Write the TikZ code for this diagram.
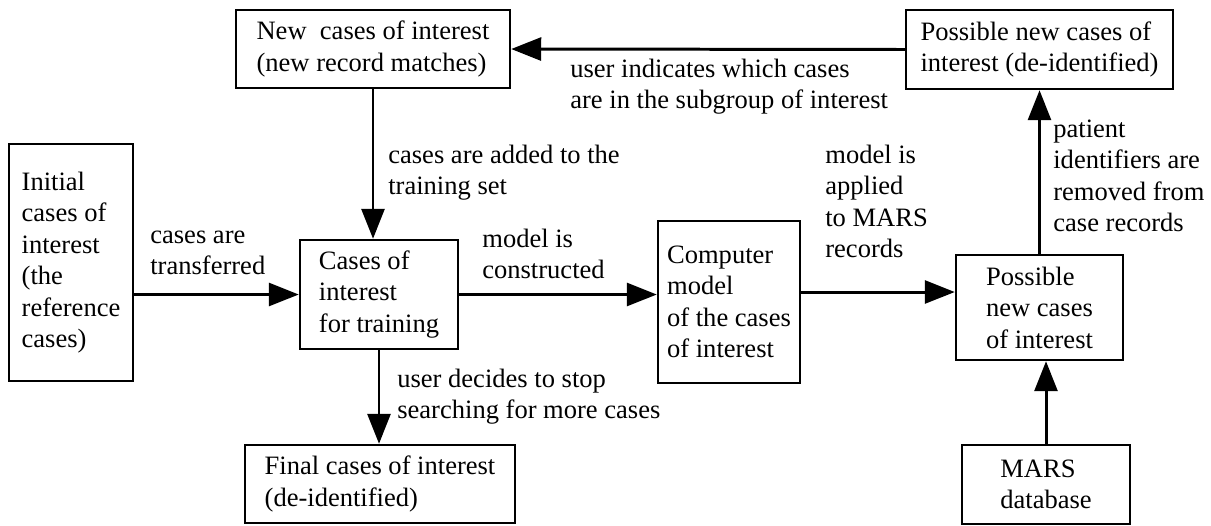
\documentclass[tikz,border=0pt]{standalone}
\usepackage{fontspec}
\setmainfont{Liberation Serif}
\usetikzlibrary{arrows.meta}

\begin{document}
\begin{tikzpicture}[
		txt/.style={font=\fontsize{15.1pt}{17.9pt}\selectfont,align=left},
		box/.style={txt,draw,line width=1.4pt,inner sep=2pt},
		lbl/.style={txt,anchor=north west,inner sep=0pt},
		e/.style={-{Triangle[length=6mm,width=4.6mm]},line width=1.7pt}
		]
		\useasboundingbox (0,0) rectangle (24.22,-10.5);
		% boxes
		\node[box,minimum width=5.48cm,minimum height=1.56cm] (newc) at (7.46,-0.98) {New\ \ cases of interest\\(new record matches)};
		\node[box,minimum width=5.34cm,minimum height=1.58cm] (deid) at (20.79,-0.99) {Possible new cases of\\interest (de-identified)};
		\node[box,minimum width=2.48cm,minimum height=4.74cm] (init) at (1.42,-5.25) {Initial\\cases of\\interest\\(the\\reference\\cases)};
		\node[box,minimum width=3.16cm,minimum height=2.18cm] (train) at (7.58,-5.89) {Cases of\\interest\\for training};
		\node[box,minimum width=2.84cm,minimum height=3.24cm] (comp) at (14.58,-6.04) {Computer\\model\\of the cases\\of interest};
		\node[box,minimum width=3.34cm,minimum height=2.10cm] (poss) at (20.79,-6.15) {Possible\\new cases\\of interest};
		\node[box,minimum width=5.40cm,minimum height=1.56cm] (final) at (7.60,-9.68) {Final cases of interest\\(de-identified)};
		\node[box,minimum width=3.36cm,minimum height=1.58cm] (mars) at (20.92,-9.69) {MARS\\database};
		% arrows
		\draw[e] (init.east |- train.west) -- (train.west);
		\draw[e] (train.east) -- (train.east -| comp.west);
		\draw[e] ([yshift=2mm]comp.east) -- ([yshift=2mm]comp.east -| poss.west);
		\draw[e] (mars.north) -- (mars.north |- poss.south);
		\draw[e] (poss.north) -- (deid.south);
		\draw[e] (deid.west) -- (newc.east);
		\draw[e] (newc.south) -- (newc.south |- train.north);
		\draw[e] (train.south) -- (train.south |- final.north);
		% arrow labels
		\node[lbl] (lTransfer) at (3.00,-4.42) {\strut cases are\\transferred};
		\node[lbl] (lBuild) at (9.64,-4.50) {\strut model is\\constructed};
		\node[lbl] (lApply) at (16.50,-2.82) {\strut model is\\applied\\to MARS\\records};
		\node[lbl] (lStop) at (7.94,-7.30) {\strut user decides to stop\\searching for more cases};
		\node[lbl] (lAdd) at (7.76,-2.82) {\strut cases are added to the\\training set};
		\node[lbl] (lPick) at (11.40,-1.10) {\strut user indicates which cases\\are in the subgroup of interest};
		\node[lbl] (lStrip) at (21.06,-2.30) {\strut patient\\identifiers are\\removed from\\case records};
	\end{tikzpicture}
\end{document}
